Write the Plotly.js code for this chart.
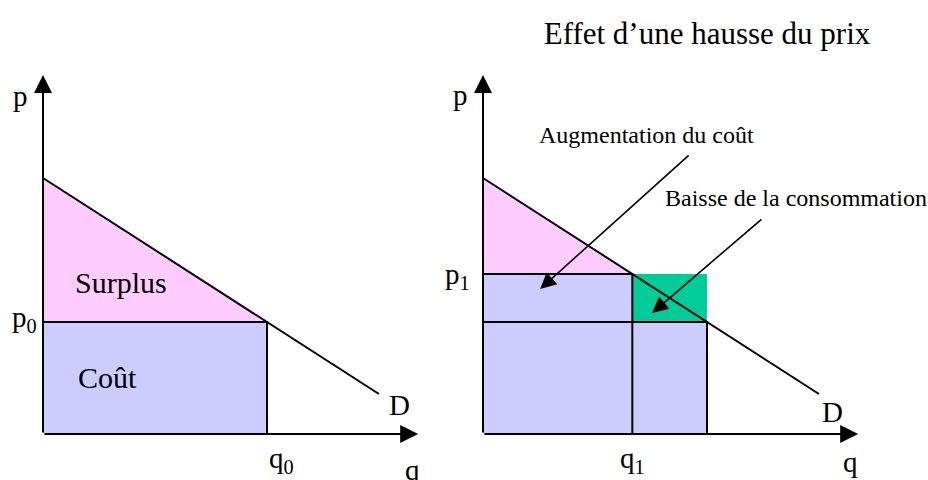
<!DOCTYPE html>
<html>
<head>
<meta charset="utf-8">
<script src="https://cdn.plot.ly/plotly-3.0.1.min.js"></script>
<style>html,body{margin:0;padding:0;background:#fff;}#chart{width:928px;height:480px;}</style>
</head>
<body>
<div id="chart"></div>
<script>
// ---- data (economic units) ----
const demandQ = [0, 9];          // demand line quantities
const demandP = [8, 1.25];       // demand line prices (p = 8 - 0.75 q)
const priceLevels = [3.5, 5];    // p0, p1
const quantityLevels = [6, 4];   // q0, q1
const priceLabels = ['p<sub>0</sub>', 'p<sub>1</sub>'];
const quantityLabels = ['q<sub>0</sub>', 'q<sub>1</sub>'];
const areaLabels = ['Surplus', 'Coût'];
const arrowLabels = ['Augmentation du coût', 'Baisse de la consommation'];
const titleText = 'Effet d\u2019une hausse du prix';

// ---- styles / layout ----
const FONT = 'Liberation Serif, Times New Roman, serif';
const PINK = '#FFCCFF', LAV = '#CCCCFF', GREEN = '#00CC99';
const W = 928, H = 480;
const pxX = 37.33, pxY = 32;
const xr = [-1, 10.5], yr = [-1.4, 11.5];
const axisEnd = [10.05, 11.22];
function xdom(origin){ return [(origin + xr[0]*pxX)/W, (origin + xr[1]*pxX)/W]; }
const yOrigin = 434;
const ydom = [(H - (yOrigin - yr[0]*pxY))/H, (H - (yOrigin - yr[1]*pxY))/H];

const [p0, p1] = priceLevels;
const [q0, q1] = quantityLevels;
const a = demandP[0], slope = (demandP[1]-demandP[0])/(demandQ[1]-demandQ[0]);
const D = q => a + slope*q;

function poly(xs, ys, color, xa, ya){
  return {x: xs, y: ys, xaxis: xa, yaxis: ya, type: 'scatter', mode: 'lines',
          fill: 'toself', fillcolor: color, line: {width: 0, color: color}, hoverinfo: 'skip'};
}
function line(xs, ys, xa, ya, w){
  return {x: xs, y: ys, xaxis: xa, yaxis: ya, type: 'scatter', mode: 'lines',
          line: {color: '#000', width: w || 2}, hoverinfo: 'skip'};
}

const traces = [
  // left panel
  poly([0, q0, 0], [D(0), p0, p0], PINK, 'x', 'y'),
  poly([0, q0, q0, 0], [0, 0, p0, p0], LAV, 'x', 'y'),
  line([0, q0, q0], [p0, p0, 0], 'x', 'y'),
  line(demandQ, demandP, 'x', 'y'),
  // right panel
  poly([0, q1, 0], [D(0), p1, p1], PINK, 'x2', 'y2'),
  poly([0, q1, q1, 0], [0, 0, p1, p1], LAV, 'x2', 'y2'),
  poly([q1, q0, q0, q1], [0, 0, p0, p0], LAV, 'x2', 'y2'),
  poly([q1, q0, q0, q1], [p0, p0, p1, p1], GREEN, 'x2', 'y2'),
  line([0, q1, q1], [p1, p1, 0], 'x2', 'y2'),
  line([0, q0, q0], [p0, p0, 0], 'x2', 'y2'),
  line(demandQ, demandP, 'x2', 'y2')
];

const hid = {showgrid: false, zeroline: false, showline: false, showticklabels: false, ticks: '', fixedrange: true};
const layout = {
  width: W, height: H, margin: {l: 0, r: 0, t: 0, b: 0},
  paper_bgcolor: '#fff', plot_bgcolor: 'rgba(0,0,0,0)', showlegend: false,
  font: {family: FONT, color: '#000'},
  title: {text: titleText, font: {family: FONT, size: 31, color: '#000'},
          x: 707/W, xanchor: 'center', y: 1 - 33/H, yanchor: 'middle', xref: 'paper'},
  xaxis: Object.assign({range: xr, domain: xdom(43), anchor: 'y'}, hid),
  yaxis: Object.assign({range: yr, domain: ydom, anchor: 'x'}, hid),
  xaxis2: Object.assign({range: xr, domain: xdom(483), anchor: 'y2'}, hid),
  yaxis2: Object.assign({range: yr, domain: ydom, anchor: 'x2'}, hid),
  annotations: []
};

const ann = layout.annotations;
function txt(s, x, y, xa, ya, opts){
  ann.push(Object.assign({text: s, x: x, y: y, xref: xa, yref: ya, showarrow: false,
    font: {family: FONT, size: 29, color: '#000'}, xanchor: 'center', yanchor: 'middle'}, opts || {}));
}
function arrow(x, y, ax, ay, xa, ya, w, s){
  ann.push({text: '', x: x, y: y, ax: ax, ay: ay, xref: xa, yref: ya, axref: xa, ayref: ya,
    showarrow: true, arrowhead: 2, arrowsize: s, arrowwidth: w, arrowcolor: '#000', standoff: 0, startstandoff: 0});
}

[['x','y'],['x2','y2']].forEach(([xa, ya]) => {
  arrow(axisEnd[0], 0, 0, 0, xa, ya, 2, 1.8);
  arrow(0, axisEnd[1], 0, 0, xa, ya, 2, 1.8);
});

// left labels
txt('p', -0.6, 10.55, 'x', 'y');
txt(priceLabels[0], -0.12, p0 + 0.08, 'x', 'y', {xanchor: 'right'});
txt(areaLabels[0], 2.09, 4.75, 'x', 'y', {font: {family: FONT, size: 30, color: '#000'}});
txt(areaLabels[1], 1.72, 1.78, 'x', 'y', {font: {family: FONT, size: 30, color: '#000'}});
txt('D', 9.56, 0.9, 'x', 'y');
txt(quantityLabels[0], q0, -0.2, 'x', 'y', {xanchor: 'left', yanchor: 'top'});
txt('q', 9.9, -0.55, 'x', 'y', {yanchor: 'top'});

// right labels
txt('p', -0.6, 10.6, 'x2', 'y2');
txt(priceLabels[1], -0.3, p1 - 0.05, 'x2', 'y2', {xanchor: 'right'});
txt(quantityLabels[1], q1, -0.2, 'x2', 'y2', {yanchor: 'top'});
txt('q', 9.85, -0.3, 'x2', 'y2', {yanchor: 'top'});
txt('D', 9.35, 0.68, 'x2', 'y2');
txt(arrowLabels[0], 4.39, 9.35, 'x2', 'y2', {font: {family: FONT, size: 24, color: '#000'}});
txt(arrowLabels[1], 8.38, 7.37, 'x2', 'y2', {font: {family: FONT, size: 24, color: '#000'}});
arrow(1.53, 4.53, 5.55, 8.75, 'x2', 'y2', 1.6, 2);
arrow(4.53, 3.78, 7.5, 6.75, 'x2', 'y2', 1.6, 2);

Plotly.newPlot('chart', traces, layout, {displayModeBar: false, staticPlot: true});
</script>
</body>
</html>
